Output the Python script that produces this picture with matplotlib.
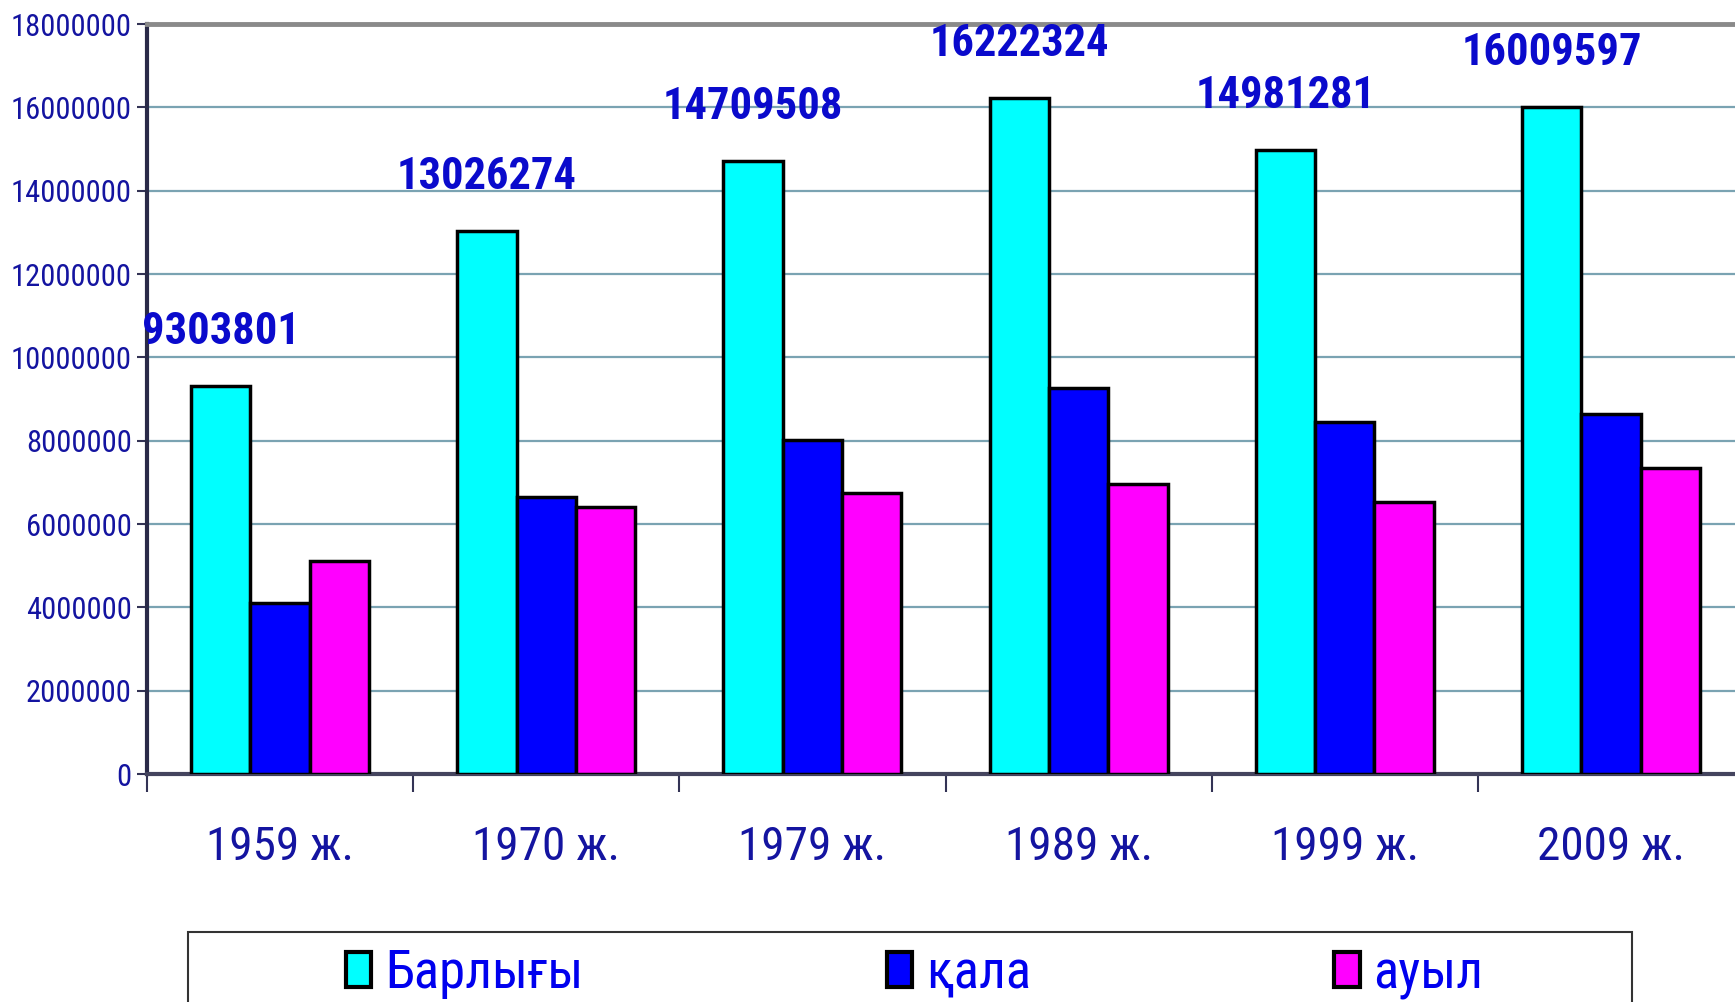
import numpy as np
import matplotlib
matplotlib.use("Agg")
import matplotlib.pyplot as plt
from matplotlib.patches import Rectangle, FancyBboxPatch
from matplotlib.legend_handler import HandlerPatch

# census years and population (Kazakhstan)
years = ['1959 ж.', '1970 ж.', '1979 ж.', '1989 ж.', '1999 ж.', '2009 ж.']
total = [9303801, 13026274, 14709508, 16222324, 14981281, 16009597]
urban = [4110000, 6640000, 8020000, 9260000, 8440000, 8630000]
rural = [5120000, 6420000, 6740000, 6960000, 6530000, 7350000]
series_names = ['Барлығы', 'қала', 'ауыл']
colors = ['#00FFFF', '#0000FF', '#FF00FF']
yticks = [0, 2000000, 4000000, 6000000, 8000000, 10000000,
          12000000, 14000000, 16000000, 18000000]

plt.rcParams['font.family'] = ['Roboto Condensed', 'Liberation Sans', 'DejaVu Sans']

fig = plt.figure(figsize=(17.35, 10.02), dpi=100)
ax = fig.add_axes([147 / 1735, 0.2275, 1597 / 1735, 0.7485])

x = np.arange(len(years))
w = 0.223
for i, (vals, c, name) in enumerate(zip([total, urban, rural], colors, series_names)):
    ax.bar(x + (i - 1) * w, vals, width=w, color=c, edgecolor='black',
           linewidth=2.5, label=name, zorder=3)

# value labels above the total bars
for xi, v in zip(x, total):
    ax.annotate(f'{v}', (xi - w, v), xytext=(0, 39), textcoords='offset points',
                ha='center', va='center', fontsize=32, fontweight='bold',
                color='#0A0ACC', zorder=5, annotation_clip=False)

ax.set_xlim(-0.5, len(years) - 0.5)
ax.set_ylim(0, 18000000)
ax.set_yticks(yticks)
ax.set_yticklabels([str(t) for t in yticks], fontsize=22, color='#1414A0')
ax.tick_params(axis='y', length=7, width=1.5, color='#333355', pad=4)

ax.set_xticks(x)
ax.set_xticklabels(years, fontsize=34, color='#1414A0')
ax.tick_params(axis='x', which='major', length=0, pad=37)
ax.set_xticks(np.arange(len(years)) - 0.5, minor=True)
ax.tick_params(axis='x', which='minor', length=13, width=1.5, color='#333355')

ax.grid(axis='y', color='#7AA3B2', linewidth=1.6, zorder=0)
ax.set_axisbelow(True)

ax.spines['left'].set_color('#2A2A48')
ax.spines['left'].set_linewidth(3)
ax.spines['bottom'].set_color('#44445E')
ax.spines['bottom'].set_linewidth(3)
ax.spines['top'].set_color('#8A8A8A')
ax.spines['top'].set_linewidth(3.5)
ax.spines['right'].set_visible(False)


# rounded legend keys
def rounded_key(legend, orig_handle, xdescent, ydescent, width, height, fontsize):
    return FancyBboxPatch((-xdescent, -ydescent), width, height,
                          boxstyle='round,pad=0,rounding_size=4')


# legend box runs off the bottom edge
fig.patches.append(Rectangle((188 / 1735, -0.05), 1444 / 1735, 0.05 + 70 / 1002,
                             transform=fig.transFigure, fill=False,
                             edgecolor='#333333', linewidth=1.5))
handles, labels = ax.get_legend_handles_labels()
leg = fig.legend(handles, labels, loc='center left', bbox_to_anchor=(346 / 1735, 0.028),
                 ncol=3, fontsize=38, frameon=False, handlelength=0.48,
                 handleheight=0.64, handletextpad=0.26, columnspacing=5.75,
                 borderaxespad=0, borderpad=0,
                 handler_map={h: HandlerPatch(patch_func=rounded_key)
                              for c in handles for h in c.patches[:1]})
for t in leg.get_texts():
    t.set_color('#0000EE')
for p in leg.get_patches():
    p.set_linewidth(3)

fig.savefig('out.png', dpi=100)
